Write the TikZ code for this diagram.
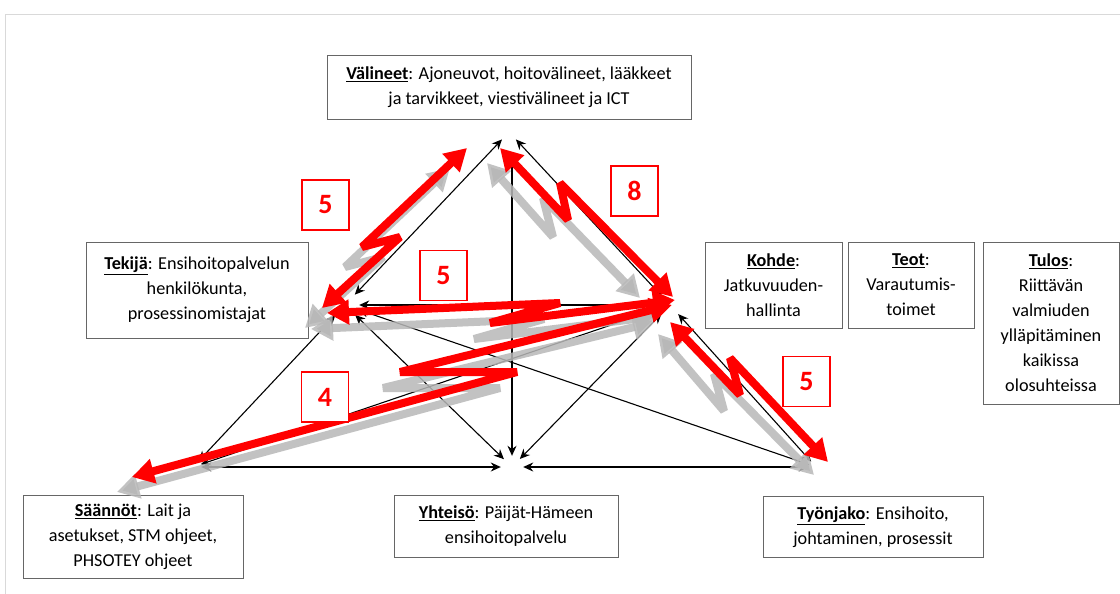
\documentclass[tikz,border=0pt]{standalone}
\usepackage{fontspec}
\setmainfont{Carlito}
\usetikzlibrary{arrows.meta,calc}
\begin{document}
\begin{tikzpicture}[x=1pt,y=-1pt,
  box/.style={draw=black!60, line width=0.9pt, fill=white, align=center,
    font=\fontsize{18.2}{25}\selectfont, inner sep=0pt},
  numbox/.style={draw=red, line width=1.4pt, fill=white, minimum width=47pt,
    minimum height=50pt, inner sep=0pt, text=red, font=\fontsize{28}{28}\selectfont\bfseries},
  vtx/.style={circle, inner sep=0pt, minimum size=#1},
  conn/.style={line width=1.1pt, {Stealth[length=10pt,width=9pt]}-{Stealth[length=10pt,width=9pt]}},
  connone/.style={line width=1.1pt, -{Stealth[length=10pt,width=9pt]}},
  redarr/.style={draw=red, line width=8pt, line join=bevel,
    {Triangle[length=22pt,width=24pt]}-{Triangle[length=22pt,width=24pt]}},
  grayarr/.style={draw=black!28, draw opacity=0.85, line width=8pt, line join=bevel,
    {Triangle[length=22pt,width=24pt]}-{Triangle[length=22pt,width=24pt]}}
]
\useasboundingbox (0,0) rectangle (1120,594);
\fill[white] (0,0) rectangle (1120,594);
% faint frame
\draw[black!15, line width=0.8pt] (5,594) -- (5,14) -- (1120,14);

% text boxes
\node[box, minimum width=364pt, minimum height=64pt] (val) at (509,87)
  {\underline{\textbf{Välineet}}: Ajoneuvot, hoitovälineet, lääkkeet\\ ja tarvikkeet, viestivälineet ja ICT};
\node[box, minimum width=222pt, minimum height=96pt] (tek) at (197,290)
  {\underline{\textbf{Tekijä}}: Ensihoitopalvelun\\ henkilökunta,\\ prosessinomistajat};
\node[box, minimum width=137pt, minimum height=86pt] (koh) at (773.5,285)
  {\underline{\textbf{Kohde}}:\\ Jatkuvuuden-\\ hallinta};
\node[box, minimum width=126pt, minimum height=86pt] (teo) at (911,285)
  {\underline{\textbf{Teot}}:\\ Varautumis-\\ toimet};
\node[box, minimum width=136pt, minimum height=162pt] (tul) at (1051,323)
  {\underline{\textbf{Tulos}}:\\ Riittävän\\ valmiuden\\ ylläpitäminen\\ kaikissa\\ olosuhteissa};
\node[box, minimum width=220pt, minimum height=83pt] (saa) at (133,537)
  {\underline{\textbf{Säännöt}}: Lait ja\\ asetukset, STM ohjeet,\\ PHSOTEY ohjeet};
\node[box, minimum width=224pt, minimum height=62pt] (yht) at (506,526)
  {\underline{\textbf{Yhteisö}}: Päijät-Hämeen\\ ensihoitopalvelu};
\node[box, minimum width=220pt, minimum height=61pt] (tyo) at (873,527)
  {\underline{\textbf{Työnjako}}: Ensihoito,\\ johtaminen, prosessit};

% vertices of the triangle
\node[vtx=20pt] (V) at (509,132) {};
\coordinate (Vy) at (512,163);
\node[vtx=28pt] (T) at (345,305) {};
\node[vtx=24pt] (K) at (670,305) {};
\node[vtx=16pt] (S) at (193,467) {};
\node[vtx=22pt] (Y) at (512,467) {};
\node[vtx=14pt] (W) at (816,467) {};

% black connectors
\draw[conn] (V) -- (T);
\draw[conn] (V) -- (K);
\draw[connone] (Vy) -- (Y);
\draw[conn] (T) -- (K);
\draw[conn] (T) -- (Y);
\draw[conn] (T) -- (W);
\draw[conn] (T) -- (S);
\draw[conn] (K) -- (S);
\draw[conn] (K) -- (Y);
\draw[conn] (K) -- (W);
\draw[conn] (S) -- (Y);
\draw[conn] (Y) -- (W);

% gray lightning arrows
\draw[grayarr] (450,168) -- (345,267) -- (383,257) -- (305,328);
\draw[grayarr] (487,163) -- (553,237) -- (543,198) -- (640,298);
\draw[grayarr] (311,329) -- (544,319) -- (474,339) -- (659,316);
\draw[grayarr] (117,492) -- (500,388) -- (383,388) -- (655,322);
\draw[grayarr] (658,334) -- (724,411) -- (714,374) -- (814,475);

% red lightning arrows
\draw[redarr] (467,148) -- (362,247) -- (400,237) -- (322,308);
\draw[redarr] (500,148) -- (568,220) -- (560,183) -- (673,297);
\draw[redarr] (327,313) -- (560,303) -- (490,323) -- (675,300);
\draw[redarr] (132,477) -- (517,372) -- (400,372) -- (672,305);
\draw[redarr] (670,322) -- (740,395) -- (730,358) -- (828,462);

% number labels
\node[numbox] (n1) at (325.5,205) {5};
\node[numbox] (n2) at (634.5,191) {8};
\node[numbox] (n3) at (443.5,275.5) {5};
\node[numbox] (n4) at (325,397) {4};
\node[numbox] (n5) at (806.5,381.5) {5};
\end{tikzpicture}
\end{document}
